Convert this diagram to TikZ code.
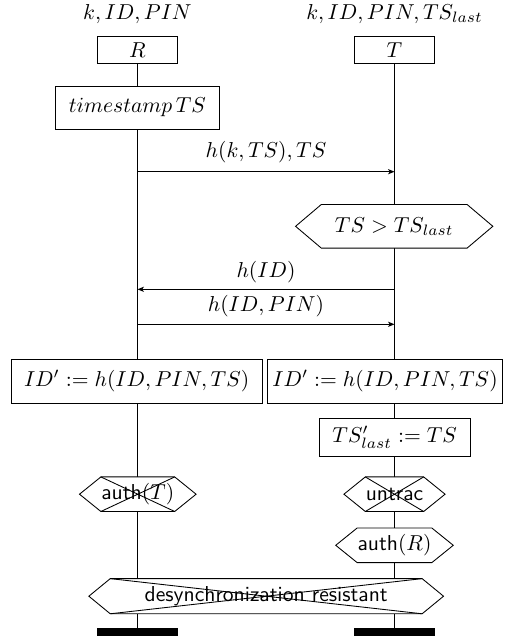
\documentclass[tikz,border=0pt]{standalone}
\usetikzlibrary{arrows.meta,calc,backgrounds}
\newdimen\pxu
\pxu=0.463pt
\newcommand\hexpath[2]{(#1.north west) -- (#1.north east) -- ($(#1.east)+(#2,0)$) -- (#1.south east) -- (#1.south west) -- ($(#1.west)-(#2,0)$) -- cycle}
\newcommand\crosspath[1]{(#1.north west) -- (#1.south east) (#1.north east) -- (#1.south west)}
\begin{document}
\begin{tikzpicture}[x=0.463pt,y=-0.463pt,
  box/.style={draw,fill=white,inner sep=0pt,line width=0.4pt},
  hexn/.style={inner sep=0pt},
  hexdraw/.style={draw,fill=white,line width=0.4pt},
  msg/.style={-{Stealth[length=3pt,width=2.4pt,inset=0.8pt]},line width=0.4pt},
  sflab/.style={font=\sffamily},
  bar/.style={fill=black,inner sep=0pt}]
\useasboundingbox (0,0) rectangle (512,638);
% headers
\node (kR) at (137.5,14) {$k,ID,PIN$};
\node (kT) at (394.5,14) {$k,ID,PIN,TS_{last}$};
\node[box,minimum width={80*\pxu},minimum height={26.7*\pxu}] (R) at (137.5,50) {$R$};
\node[box,minimum width={80*\pxu},minimum height={26.7*\pxu}] (T) at (394.5,50) {$T$};
\node[box,minimum width={163.3*\pxu},minimum height={43.3*\pxu}] (ts) at (137.5,107.7) {$timestamp\,TS$};
% message 1
\coordinate (m1a) at (137.5,171.7);
\coordinate (m1b) at (394.5,171.7);
\node (m1l) at (266,152) {$h(k,TS),TS$};
\draw[msg] (m1a) -- (m1b);
% check
\node[hexn,minimum width={145*\pxu},minimum height={42.7*\pxu}] (chk) at (394.2,226.3) {$TS>TS_{last}$};
% message 2
\coordinate (m2a) at (394.5,289.3);
\coordinate (m2b) at (137.5,289.3);
\node (m2l) at (266,272) {$h(ID)$};
\draw[msg] (m2a) -- (m2b);
% message 3
\coordinate (m3a) at (137.5,324.3);
\coordinate (m3b) at (394.5,324.3);
\node (m3l) at (266,306) {$h(ID,PIN)$};
\draw[msg] (m3a) -- (m3b);
% computations
\node[box,minimum width={251.3*\pxu},minimum height={44.3*\pxu}] (idL) at (136.7,381.2) {$ID' := h(ID,PIN,TS)$};
\node[box,minimum width={235.3*\pxu},minimum height={44.3*\pxu}] (idR) at (385,381.2) {$ID' := h(ID,PIN,TS)$};
\node[box,minimum width={150.7*\pxu},minimum height={38*\pxu}] (tsl) at (394.7,437.7) {$TS'_{last} := TS$};
% properties
\node[hexn,sflab,minimum width={54.3*\pxu},minimum height={33.7*\pxu}] (authT) at (137.8,494.2) {auth$(T)$};
\node[hexn,sflab,minimum width={54.3*\pxu},minimum height={33.7*\pxu}] (untrac) at (394.5,494.2) {untrac};
\node[hexn,sflab,minimum width={54.3*\pxu},minimum height={33.7*\pxu}] (authR) at (394.5,545.3) {auth$(R)$};
\node[hexn,sflab,minimum width={311*\pxu},minimum height={34.3*\pxu}] (desync) at (266.2,596.2) {desynchronization resistant};
% end bars
\node[bar,minimum width={80.3*\pxu},minimum height={7.7*\pxu}] (endL) at (137.5,632.2) {};
\node[bar,minimum width={80.3*\pxu},minimum height={7.7*\pxu}] (endR) at (394.5,632.2) {};
\begin{scope}[on background layer]
  \draw[line width=0.4pt] (R.south) -- (endL.north);
  \draw[line width=0.4pt] (T.south) -- (endR.north);
  \path[hexdraw] \hexpath{chk}{25.7};
  \path[hexdraw] \hexpath{authT}{21.4};
  \draw[line width=0.4pt] \crosspath{authT};
  \path[hexdraw] \hexpath{untrac}{21.4};
  \draw[line width=0.4pt] \crosspath{untrac};
  \path[hexdraw] \hexpath{authR}{21.4};
  \path[hexdraw] \hexpath{desync}{21.4};
  \draw[line width=0.4pt] \crosspath{desync};
\end{scope}
\end{tikzpicture}
\end{document}
